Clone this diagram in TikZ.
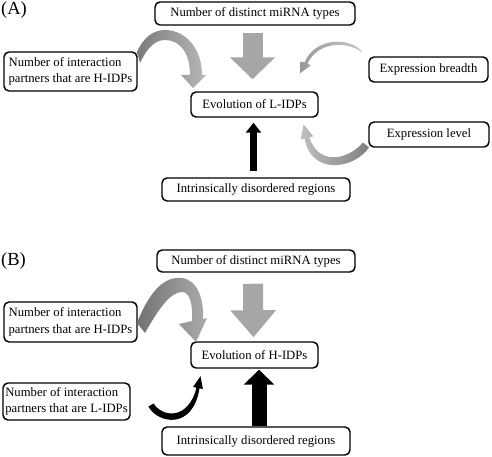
\documentclass[tikz,border=0pt]{standalone}
\usepackage{fontspec}
\setmainfont{Liberation Serif}
\usetikzlibrary{arrows.meta,calc}
\begin{document}
\begin{tikzpicture}[x=1pt,y=-1pt,
  box/.style={draw, line width=1.45pt, rounded corners=5pt, fill=white, inner sep=0pt,
    align=left, font=\fontsize{12.7}{16.5}\selectfont},
  panel/.style={inner sep=0pt, anchor=base west, font=\fontsize{18.5}{20}\selectfont},
  grayarrow/.style={draw=black!35, line width=20pt},
  blackarrow/.style={draw=black}]
\useasboundingbox (0,0) rectangle (492,457);

% ---------- Panel A ----------
\node[panel] (labA) at (1,15) {(A)};
\node[box, minimum width=200pt, minimum height=23pt] (mirnaA) at (255,13.5) {Number of distinct miRNA types};
\node[box, minimum width=133pt, minimum height=39pt] (hA) at (70.5,71.5) {Number of interaction\\partners that are H-IDPs};
\node[box, minimum width=127pt, minimum height=25pt] (evoA) at (254.5,104.5) {Evolution of L-IDPs};
\node[box, minimum width=119pt, minimum height=25pt] (breadth) at (428.5,69.5) {Expression breadth};
\node[box, minimum width=120pt, minimum height=25pt] (level) at (429,134.5) {Expression level};
\node[box, minimum width=188pt, minimum height=23pt] (idrA) at (256,189.5) {Intrinsically disordered regions};

\draw[grayarrow, -{Triangle[width=44pt,length=22pt]}]
  ($(mirnaA.south)+(-2.5,7)$) -- ($(evoA.north)+(-2,-12)$);
\draw[blackarrow, line width=7pt, -{Triangle[width=15pt,length=10pt]}]
  ($(idrA.north)+(-2.5,-6)$) -- ($(evoA.south)+(-1,5)$);

% curved arrow from H-IDPs (A)
\path[left color=black!52, right color=black!28]
  (137,52) .. controls (143,38) and (153,30) .. (165,30)
  .. controls (185,30) and (202,48) .. (202,75)
  -- (206,75) -- (193,88) -- (181,75) -- (190,75)
  .. controls (190,53) and (180,40) .. (165,40)
  .. controls (155,40) and (147,48) .. (140,63) -- cycle;

% curved arrow from Expression breadth
\path[left color=black!40, right color=black!22]
  (362,51.5) .. controls (350,37) and (315,37) .. (304.5,62.5)
  -- (300.5,61.5) -- (300.5,73) -- (310.5,65.5) -- (307.5,63.5)
  .. controls (318,41) and (348,41) .. (362,52.5) -- cycle;

% curved arrow from Expression level
\path[left color=black!25, right color=black!50]
  (369.1,147.5) .. controls (353,170) and (311,175) .. (304.6,138.6)
  -- (300.7,139.6) -- (303.6,124.4) -- (313.3,136.4) -- (309.4,137.4)
  .. controls (318,165) and (347,161) .. (362.9,142.5) -- cycle;

% ---------- Panel B ----------
\node[panel] (labB) at (1,265) {(B)};
\node[box, minimum width=198pt, minimum height=22pt] (mirnaB) at (256,261) {Number of distinct miRNA types};
\node[box, minimum width=133pt, minimum height=40pt] (hB) at (70.5,322) {Number of interaction\\partners that are H-IDPs};
\node[box, minimum width=127pt, minimum height=26pt] (evoB) at (254.5,355) {Evolution of H-IDPs};
\node[box, minimum width=127pt, minimum height=37pt] (lB) at (66.5,401.5) {Number of interaction\\partners that are L-IDPs};
\node[box, minimum width=188pt, minimum height=28pt] (idrB) at (256,441) {Intrinsically disordered regions};

\draw[grayarrow, -{Triangle[width=44pt,length=27pt]}]
  ($(mirnaB.south)+(-3,11)$) -- ($(evoB.north)+(-1,-4)$);
\draw[blackarrow, line width=15pt, -{Triangle[width=30pt,length=15pt]}]
  ($(idrB.north)+(3,0)$) -- ($(evoB.south)+(4.5,1)$);

% curved arrow from H-IDPs (B)
\path[left color=black!55, right color=black!33]
  (137,323) .. controls (150,290) and (165,276) .. (182,278)
  .. controls (198,280) and (204,300) .. (203,319)
  -- (207,318) -- (196,342) -- (179,324) -- (192,321)
  .. controls (193,305) and (190,292) .. (182,292)
  .. controls (170,292) and (158,310) .. (145,333) -- cycle;

% curved arrow from L-IDPs (B)
\path[fill=black]
  (148.4,406.5) .. controls (158,424) and (193,430) .. (199.5,388.3)
  -- (202.9,389.1) -- (200.5,376.2) -- (193.1,386.9) -- (196.5,387.7)
  .. controls (188,421) and (162,417) .. (153.6,403.5) -- cycle;
\end{tikzpicture}
\end{document}
